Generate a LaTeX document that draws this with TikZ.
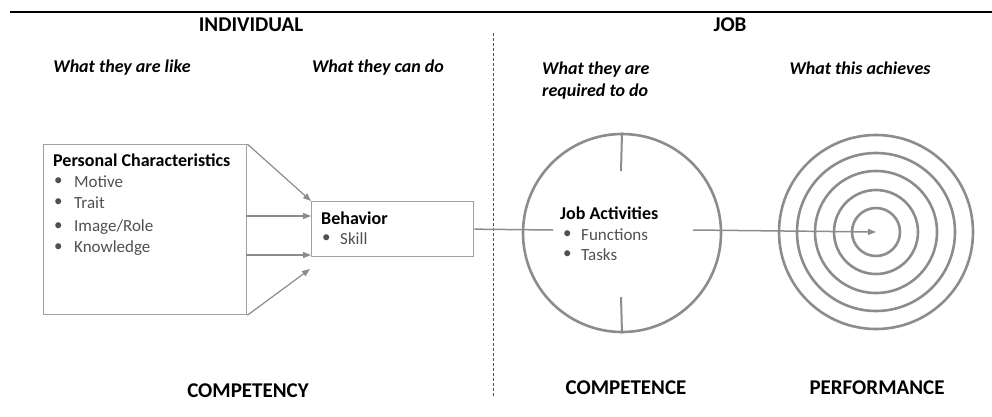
\documentclass[tikz,border=0pt]{standalone}
\usepackage{fontspec}
\setmainfont{Carlito}
\usetikzlibrary{arrows.meta}
\definecolor{lg}{HTML}{A0A0A0}
\definecolor{cg}{HTML}{8C8C8C}
\definecolor{tg}{HTML}{505050}
\tikzset{
  head/.style={font=\fontsize{21}{24}\selectfont\bfseries, inner sep=0pt},
  sub/.style={font=\fontsize{18}{22}\selectfont\bfseries\itshape, inner sep=0pt, align=left},
  foot/.style={font=\fontsize{21}{24}\selectfont\bfseries, inner sep=0pt},
  boxln/.style={draw=lg, line width=1.3pt, inner sep=0pt},
  ttl/.style={font=\fontsize{18}{21}\selectfont\bfseries, inner sep=0pt, anchor=west},
  itm/.style={font=\fontsize{17}{20}\selectfont, text=tg, inner sep=0pt, anchor=west},
  arr/.style={draw=cg, line width=1.2pt, -{Triangle[length=8pt,width=6pt]}},
  ring/.style={draw=cg, line width=2.6pt, circle, inner sep=0pt},
}
\begin{document}
\begin{tikzpicture}[x=1pt,y=-1pt]
\useasboundingbox (0,0) rectangle (992,416);
% top rule
\coordinate (r1) at (10,12);
\coordinate (r2) at (992,12);
\draw[line width=2.4pt] (r1) -- (r2);
% dashed divider
\coordinate (d1) at (493,33);
\coordinate (d2) at (493,398);
\draw[tg, line width=0.8pt, dash pattern=on 3pt off 2pt] (d1) -- (d2);
% headings
\node[head] (hind) at (251,25) {INDIVIDUAL};
\node[head] (hjob) at (730,25) {JOB};
\node[sub] (s1) at (122,68) {What they are like};
\node[sub] (s2) at (378,68) {What they can do};
\node[sub, anchor=west] (s3) at (542,81) {What they are\\required to do};
\node[sub] (s4) at (860,68) {What this achieves};
% personal characteristics box
\node[boxln, anchor=north west, minimum width=203pt, minimum height=170pt] (pc) at (43,144) {};
\node[ttl] (pct) at (53,160) {Personal Characteristics};
\foreach \y/\t [count=\i] in {182/Motive,203/Trait,227/Image\slash Role,248/Knowledge}{
  \node[itm] (pb\i) at (54,\y) {•};
  \node[itm] (pi\i) at (74,\y) {\t};
}
% behavior box
\node[boxln, anchor=north west, minimum width=162pt, minimum height=55pt] (beh) at (311,201) {};
\node[ttl] (beht) at (321,218) {Behavior};
\node[itm] (bb1) at (322,239) {•};
\node[itm] (bi1) at (340,239) {Skill};
% arrows into behavior
\coordinate (a2s) at (246,216);
\coordinate (a2e) at (311,216);
\coordinate (a3s) at (246,255);
\coordinate (a3e) at (311,255);
\coordinate (a4e) at (310,269);
\draw[arr] (pc.north east) -- (beh.north west);
\draw[arr] (a2s) -- (a2e);
\draw[arr] (a3s) -- (a3e);
\draw[arr] (pc.south east) -- (a4e);
% job activities circle
\node[ring, minimum size=198pt] (jc) at (622,233) {};
\coordinate (tk1) at (621,171);
\coordinate (tk2) at (621,297);
\draw[cg, line width=2pt] (jc.north) -- (tk1);
\draw[cg, line width=2pt] (jc.south) -- (tk2);
\node[ttl] (jct) at (560,213) {Job Activities};
\node[itm] (jb1) at (563,235) {•};
\node[itm] (ji1) at (581,235) {Functions};
\node[itm] (jb2) at (563,255) {•};
\node[itm] (ji2) at (581,255) {Tasks};
% line from behavior into circle
\coordinate (l1e) at (553,230);
\draw[cg, line width=1.5pt] (beh.east) -- (l1e);
% target
\foreach \r [count=\i] in {194,158,122,84,48}{
  \node[ring, minimum size=\r pt] (t\i) at (876,232) {};
}
\coordinate (l2s) at (693,230);
\draw[arr, line width=1.5pt] (l2s) -- (t5.center);
% footers
\node[foot] (f1) at (248,391) {COMPETENCY};
\node[foot] (f2) at (626,388) {COMPETENCE};
\node[foot] (f3) at (877,388) {PERFORMANCE};
\end{tikzpicture}
\end{document}
